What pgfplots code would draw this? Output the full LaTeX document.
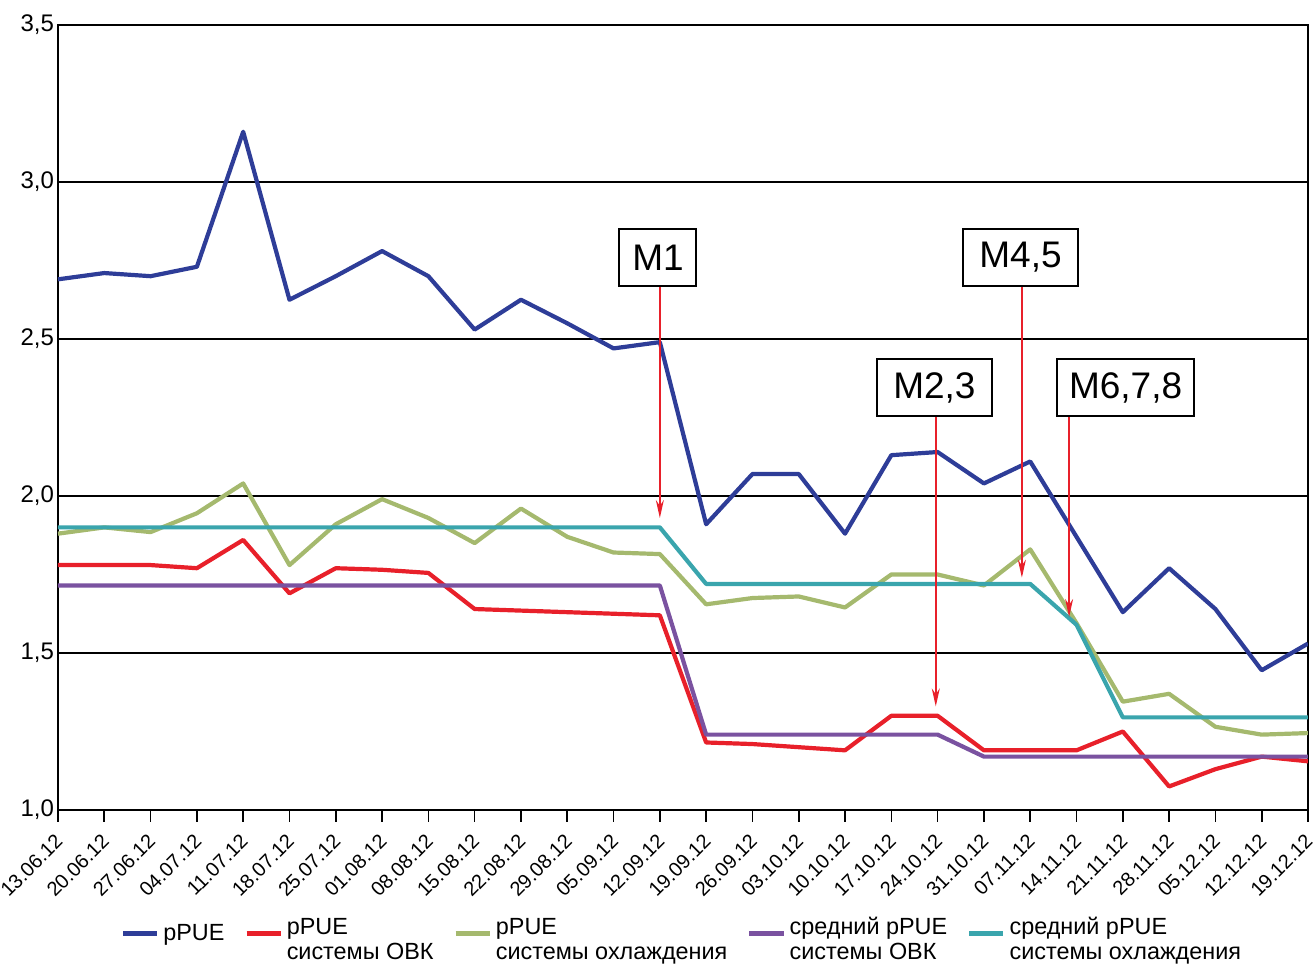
\documentclass[border=0pt]{standalone}
\usepackage{pgfplots}
\usepackage{pgfplotstable}
\pgfplotsset{compat=1.18}
\usepackage{fontspec}
\setmainfont{Liberation Sans}
\usetikzlibrary{arrows.meta}
\definecolor{cblue}{HTML}{2E3D98}
\definecolor{cred}{HTML}{E8202A}
\definecolor{cgreen}{HTML}{A5B96E}
\definecolor{cpurple}{HTML}{7A52A0}
\definecolor{ccyan}{HTML}{3AA5AD}
\pgfplotstableread{
x ppue obk cool avobk avcool
0 2.69 1.78 1.88 1.715 1.90
1 2.71 1.78 1.90 1.715 1.90
2 2.70 1.78 1.885 1.715 1.90
3 2.73 1.77 1.945 1.715 1.90
4 3.16 1.86 2.04 1.715 1.90
5 2.625 1.69 1.78 1.715 1.90
6 2.70 1.77 1.91 1.715 1.90
7 2.78 1.765 1.99 1.715 1.90
8 2.70 1.755 1.93 1.715 1.90
9 2.53 1.64 1.85 1.715 1.90
10 2.625 1.635 1.96 1.715 1.90
11 2.55 1.63 1.87 1.715 1.90
12 2.47 1.625 1.82 1.715 1.90
13 2.49 1.62 1.815 1.715 1.90
14 1.91 1.215 1.655 1.24 1.72
15 2.07 1.21 1.675 1.24 1.72
16 2.07 1.20 1.68 1.24 1.72
17 1.88 1.19 1.645 1.24 1.72
18 2.13 1.30 1.75 1.24 1.72
19 2.14 1.30 1.75 1.24 1.72
20 2.04 1.19 1.715 1.17 1.72
21 2.11 1.19 1.83 1.17 1.72
22 1.87 1.19 1.595 1.17 1.59
23 1.63 1.25 1.345 1.17 1.295
24 1.77 1.075 1.37 1.17 1.295
25 1.64 1.13 1.265 1.17 1.295
26 1.445 1.17 1.24 1.17 1.295
27 1.53 1.155 1.245 1.17 1.295
}\data
\begin{document}
\begin{tikzpicture}
\begin{axis}[
  name=ax, at={(0,0)}, anchor=south west,
  scale only axis, width=625pt, height=392.5pt,
  xmin=0, xmax=27, ymin=1, ymax=3.5,
  tick pos=left,
  xtick={0,...,27},
  xticklabels={13.06.12,20.06.12,27.06.12,04.07.12,11.07.12,18.07.12,25.07.12,01.08.12,08.08.12,15.08.12,22.08.12,29.08.12,05.09.12,12.09.12,19.09.12,26.09.12,03.10.12,10.10.12,17.10.12,24.10.12,31.10.12,07.11.12,14.11.12,21.11.12,28.11.12,05.12.12,12.12.12,19.12.12},
  x tick label style={xshift=3pt, yshift=-5.5pt, rotate=45, anchor=east, font=\fontsize{10}{12}\selectfont},
  ytick={1,1.5,2,2.5,3,3.5},
  y tick label style={xshift=7.5pt, font=\fontsize{12}{14}\selectfont, /pgf/number format/.cd, fixed, fixed zerofill, precision=1, use comma, assume math mode=true},
  tick align=outside,
  x tick style={draw=black, line width=0.8pt},
  y tick style={draw=none},
  major tick length=6pt,
  ymajorgrids, grid style={black, line width=0.8pt},
  axis line style={black, line width=1.1pt},
  legend style={at={(0.5,-0.125)}, anchor=north, draw=none, legend columns=5,
    font=\fontsize{11.7}{12.5}\selectfont, cells={anchor=west},
    /tikz/every even column/.append style={column sep=8pt}},
  every axis plot/.append style={line width=2.1pt, line join=round},
]
\addplot[cblue, no marks] table[x=x,y=ppue]{\data};
\addlegendentry{pPUE}
\addplot[cred, no marks] table[x=x,y=obk]{\data};
\addlegendentry{\begin{tabular}[c]{@{}l@{}}pPUE\\системы ОВК\end{tabular}}
\addplot[cgreen, no marks] table[x=x,y=cool]{\data};
\addlegendentry{\begin{tabular}[c]{@{}l@{}}pPUE\\системы охлаждения\end{tabular}}
\addplot[cpurple, no marks] table[x=x,y=avobk]{\data};
\addlegendentry{\begin{tabular}[c]{@{}l@{}}средний pPUE\\системы ОВК\end{tabular}}
\addplot[ccyan, no marks] table[x=x,y=avcool]{\data};
\addlegendentry{\begin{tabular}[c]{@{}l@{}}средний pPUE\\системы охлаждения\end{tabular}}

\draw[cred, line width=0.75pt, -{Stealth[length=9pt,width=4pt]}] (axis cs:13.0,2.67) -- (axis cs:13.0,1.93);
\draw[cred, line width=0.75pt, -{Stealth[length=9pt,width=4pt]}] (axis cs:20.82,2.67) -- (axis cs:20.82,1.74);
\draw[cred, line width=0.75pt, -{Stealth[length=9pt,width=4pt]}] (axis cs:18.96,2.255) -- (axis cs:18.96,1.33);
\draw[cred, line width=0.75pt, -{Stealth[length=9pt,width=4pt]}] (axis cs:21.84,2.255) -- (axis cs:21.84,1.615);

\tikzset{mbox/.style={draw=black, line width=1pt, fill=white, minimum height=28.5pt, inner xsep=6pt, font=\fontsize{18.5}{21}\selectfont}}
\node[mbox, minimum width=38.5pt] at (axis cs:12.96,2.76) {M1};
\node[mbox, minimum width=57.5pt] at (axis cs:20.79,2.76) {M4,5};
\node[mbox, minimum width=57.5pt] at (axis cs:18.93,2.345) {M2,3};
\node[mbox, minimum width=68.5pt] at (axis cs:23.06,2.345) {M6,7,8};
\end{axis}
\pgfresetboundingbox
\path (-29pt,-79pt) rectangle (628pt,405pt);
\end{tikzpicture}
\end{document}
